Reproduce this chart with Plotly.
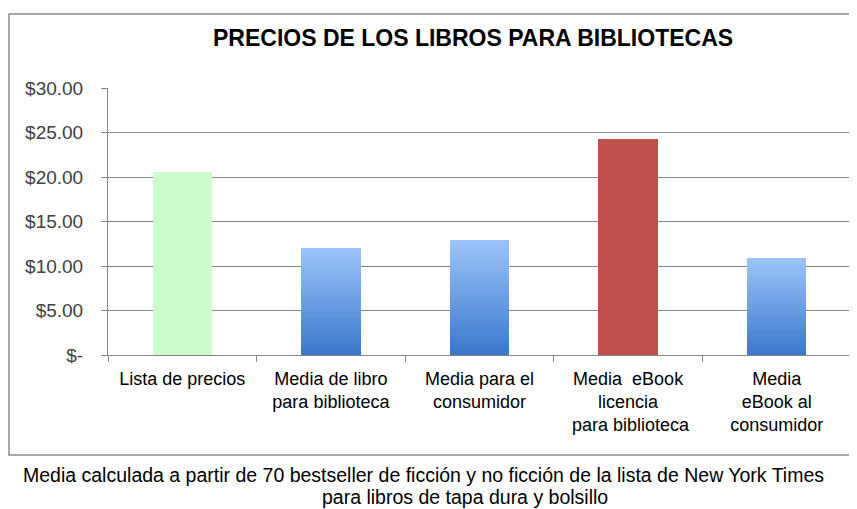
import plotly.graph_objects as go

categories = [
    "Lista de precios",
    "Media de libro<br>para biblioteca",
    "Media para el<br>consumidor",
    "Media  eBook<br>licencia<br> para biblioteca",
    "Media<br>eBook al<br>consumidor",
]
prices = [20.6, 12.05, 12.95, 24.25, 10.85]
bar_style = ["green", "blue", "blue", "red", "blue"]
tick_vals = [0, 5, 10, 15, 20, 25, 30]
tick_text = ["$-", "$5.00", "$10.00", "$15.00", "$20.00", "$25.00", "$30.00"]

# the page body has an 8px margin, so the figure is drawn 8px smaller and
# reference pixel positions are shifted by that amount
OFF = 8
W, H = 857 - OFF, 509 - OFF
PL, PR, PT, PB = 108 - OFF, 851 - OFF, 88 - OFF, 355 - OFF  # plot area


def px_x(px):
    return (px - OFF - PL) / (PR - PL)


def px_y(py):
    return (PB - (py - OFF)) / (PB - PT)


def mix(c1, c2, t):
    return "rgb(%d,%d,%d)" % tuple(round(a + (b - a) * t) for a, b in zip(c1, c2))


BLUE_BOTTOM = (58, 120, 204)
BLUE_TOP = (158, 196, 250)
SOLID = {"green": "#ccfccc", "red": "#c0504d"}

# each bar is drawn as a stack of thin slices to fake Excel's gradient fill
N = 30
fig = go.Figure()
for k in range(N):
    t = (k + 0.5) / N
    colors = [SOLID.get(s) or mix(BLUE_BOTTOM, BLUE_TOP, t) for s in bar_style]
    fig.add_trace(
        go.Bar(
            x=categories,
            y=[p / N for p in prices],
            marker=dict(color=colors, line=dict(width=0)),
            width=0.4,
            showlegend=False,
            hoverinfo="skip",
        )
    )

font = "Liberation Sans, Arial, sans-serif"

fig.update_layout(
    width=W,
    height=H,
    barmode="stack",
    bargap=0,
    plot_bgcolor="white",
    paper_bgcolor="white",
    margin=dict(l=PL, r=W - PR, t=PT, b=H - PB),
    font=dict(family=font, size=18, color="black"),
    xaxis=dict(
        showline=True,
        linecolor="#868686",
        linewidth=1,
        ticks="outside",
        tickson="boundaries",
        ticklen=6,
        tickcolor="#868686",
        tickfont=dict(size=18, color="black"),
        showgrid=False,
        ticklabelstandoff=7,
    ),
    yaxis=dict(
        range=[0, 30],
        tickvals=tick_vals,
        ticktext=tick_text,
        showline=True,
        linecolor="#868686",
        linewidth=1,
        ticks="outside",
        ticklen=6,
        tickcolor="#868686",
        showgrid=True,
        gridcolor="#868686",
        gridwidth=1,
        zeroline=False,
        tickfont=dict(size=19, color="#404040"),
        ticklabelstandoff=14,
    ),
    shapes=[
        dict(
            type="rect",
            xref="paper",
            yref="paper",
            x0=px_x(9),
            x1=px_x(853),
            y0=px_y(455),
            y1=px_y(14),
            line=dict(color="#8c8c8c", width=1.5),
        )
    ],
    annotations=[
        dict(
            text="<b>PRECIOS DE LOS LIBROS PARA BIBLIOTECAS</b>",
            xref="paper",
            yref="paper",
            x=px_x(473),
            y=px_y(38),
            xanchor="center",
            yanchor="middle",
            showarrow=False,
            font=dict(size=23, color="black"),
        ),
        dict(
            text="Media calculada a partir de 70 bestseller de ficción y no ficción de la lista de New York Times",
            xref="paper",
            yref="paper",
            x=px_x(423),
            y=px_y(475),
            xanchor="center",
            yanchor="middle",
            showarrow=False,
            font=dict(size=19.5, color="black"),
        ),
        dict(
            text="para libros de tapa dura y bolsillo",
            xref="paper",
            yref="paper",
            x=px_x(465),
            y=px_y(497),
            xanchor="center",
            yanchor="middle",
            showarrow=False,
            font=dict(size=19.5, color="black"),
        ),
    ],
)

fig.write_html("out.html")
